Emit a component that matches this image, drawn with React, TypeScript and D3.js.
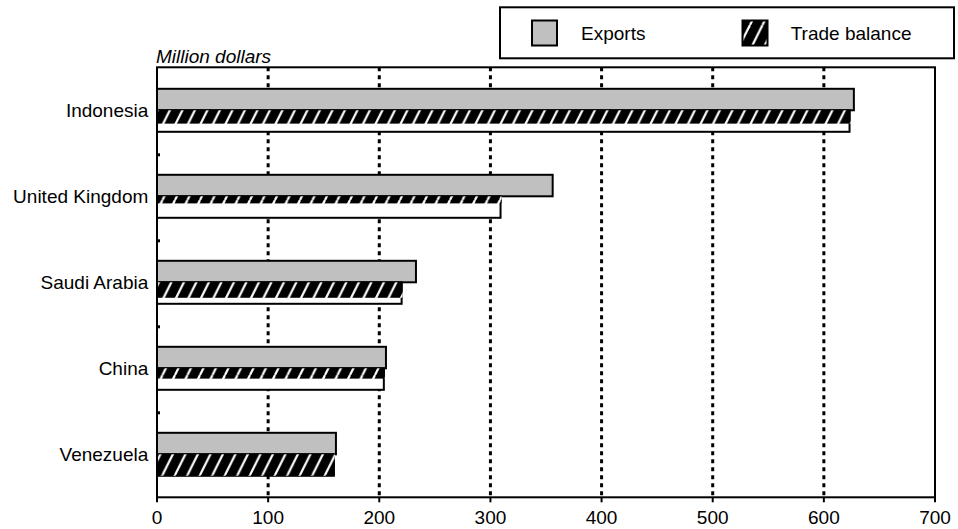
import React from "react";
import * as d3 from "d3";

const categories = ["Indonesia", "United Kingdom", "Saudi Arabia", "China", "Venezuela"];
const exportsValues = [627, 356, 233, 206, 161];
const tradeBalanceValues = [624, 310, 221, 205, 160];
// rendering quirk of the original: fraction of the trade-balance bar painted with hatch
const hatchCoverage = [0.62, 0.33, 0.72, 0.48, 1.0];
const xTicks = [0, 100, 200, 300, 400, 500, 600, 700];
const gridTicks = [100, 200, 300, 400, 500, 600];
const legendLabels = ["Exports", "Trade balance"];
const unitLabel = "Million dollars";

const W = 958;
const H = 529;
const M = { left: 157, right: 935, top: 67.3, bottom: 497.3 };
const FONT = "'Liberation Sans', Arial, Helvetica, sans-serif";
const FS = 19;
const GRAY = "#C0C0C0";

export default function App() {
  const x = d3.scaleLinear().domain([0, 700]).range([M.left, M.right]);
  const y = d3.scaleBand<string>().domain(categories).range([M.top, M.bottom]).padding(0);
  const bw = y.bandwidth();
  const barH = bw / 4;

  return (
    <svg
      width={W}
      height={H}
      style={{ position: "absolute", left: 0, top: 0, background: "#fff" }}
      fontFamily={FONT}
    >
      <defs>
        <pattern id="hatch" patternUnits="userSpaceOnUse" width={12.5} height={25}>
          <rect width={12.5} height={25} fill="#000" />
          <line x1={0} y1={25} x2={12.5} y2={0} stroke="#fff" strokeWidth={2.2} />
          <line x1={-12.5} y1={25} x2={0} y2={0} stroke="#fff" strokeWidth={2.2} />
          <line x1={12.5} y1={25} x2={25} y2={0} stroke="#fff" strokeWidth={2.2} />
        </pattern>
      </defs>

      {/* legend */}
      <rect x={500} y={7.3} width={454} height={51} fill="#fff" stroke="#000" strokeWidth={2} />
      <rect x={532} y={20.5} width={25} height={25} fill={GRAY} stroke="#000" strokeWidth={2} />
      <text x={581} y={33 + 0.35 * FS} fontSize={FS} fill="#000">{legendLabels[0]}</text>
      <rect x={742.5} y={20.5} width={25} height={25} fill="url(#hatch)" stroke="#000" strokeWidth={2} />
      <text x={790.7} y={33 + 0.35 * FS} fontSize={FS} fill="#000">{legendLabels[1]}</text>

      {/* unit label */}
      <text x={156} y={63.3} fontSize={FS} fontStyle="italic" fill="#000">{unitLabel}</text>

      {/* gridlines */}
      {gridTicks.map((t) => (
        <line
          key={"g" + t}
          x1={x(t)}
          x2={x(t)}
          y1={M.top}
          y2={M.bottom}
          stroke="#000"
          strokeWidth={3}
          strokeDasharray="4 4"
        />
      ))}

      {/* bars */}
      {categories.map((c, i) => {
        const y0 = (y(c) as number) + bw / 4;
        const y1 = y0 + barH;
        const hatchH = barH * hatchCoverage[i];
        return (
          <g key={c}>
            <rect
              x={x(0)}
              y={y0}
              width={x(exportsValues[i]) - x(0)}
              height={barH}
              fill={GRAY}
              stroke="#000"
              strokeWidth={2}
            />
            <rect
              x={x(0)}
              y={y1}
              width={x(tradeBalanceValues[i]) - x(0) - 1}
              height={barH}
              fill="#fff"
              stroke="#000"
              strokeWidth={2}
            />
            <rect
              x={x(0)}
              y={y1}
              width={x(tradeBalanceValues[i]) - x(0)}
              height={hatchH}
              fill="url(#hatch)"
            />
          </g>
        );
      })}

      {/* frame */}
      <rect
        x={M.left}
        y={M.top}
        width={M.right - M.left}
        height={M.bottom - M.top}
        fill="none"
        stroke="#000"
        strokeWidth={2}
      />

      {/* small inner ticks at band boundaries */}
      {categories.slice(1).map((c) => (
        <line
          key={"bt" + c}
          x1={M.left}
          x2={M.left + 3}
          y1={(y(c) as number) + 1.5}
          y2={(y(c) as number) + 1.5}
          stroke="#000"
          strokeWidth={3}
        />
      ))}

      {/* x ticks */}
      {xTicks.map((t) => (
        <g key={"t" + t}>
          <line x1={x(t)} x2={x(t)} y1={M.bottom} y2={M.bottom + 5} stroke="#000" strokeWidth={2} />
          <text x={x(t)} y={M.bottom + 27} fontSize={FS} textAnchor="middle" fill="#000">
            {t}
          </text>
        </g>
      ))}

      {/* category labels */}
      {categories.map((c) => (
        <text
          key={"l" + c}
          x={M.left - 8.7}
          y={(y(c) as number) + bw / 2 + 0.35 * FS}
          fontSize={FS}
          textAnchor="end"
          fill="#000"
        >
          {c}
        </text>
      ))}
    </svg>
  );
}
